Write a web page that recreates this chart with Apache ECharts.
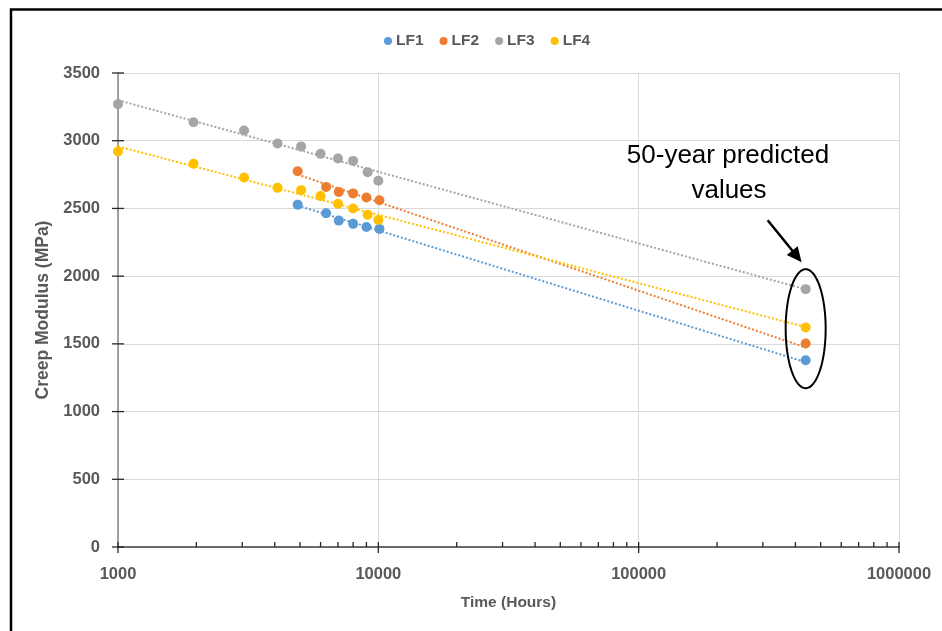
<!DOCTYPE html>
<html><head><meta charset="utf-8">
<script src="https://cdn.jsdelivr.net/npm/echarts@6/dist/echarts.min.js"></script>
<style>html,body{margin:0;padding:0;background:#fff}#c{width:942px;height:631px}</style>
</head><body><div id="c"></div>
<script>
// ---- data ----
const seriesNames = ['LF1', 'LF2', 'LF3', 'LF4'];
const colors = ['#5B9BD5', '#ED7D31', '#A5A5A5', '#FFC000'];
const timesLF1 = [4900, 6300, 7050, 8000, 9000, 10100];
const timesLF2 = [4900, 6300, 7050, 8000, 9000, 10100];
const timesLF3 = [1000, 1950, 3050, 4100, 5050, 6000, 7000, 8000, 9100, 10000];
const timesLF4 = [1000, 1950, 3050, 4100, 5050, 6000, 7000, 8000, 9100, 10000];
const valuesLF1 = [2528, 2465, 2410, 2386, 2363, 2349];
const valuesLF2 = [2775, 2659, 2622, 2611, 2581, 2561];
const valuesLF3 = [3270, 3137, 3076, 2980, 2958, 2903, 2869, 2851, 2768, 2704];
const valuesLF4 = [2921, 2829, 2729, 2652, 2635, 2591, 2534, 2500, 2453, 2414];
const predictedTime = 438000; // 50 years
const predictedValues = [1379, 1503, 1904, 1621]; // LF1..LF4
const yTickValues = [0, 500, 1000, 1500, 2000, 2500, 3000, 3500];
const xMajorTicks = [1000, 10000, 100000, 1000000];
const xMinorTicks = [2000, 3000, 4000, 5000, 6000, 7000, 8000, 9000,
  20000, 30000, 40000, 50000, 60000, 70000, 80000, 90000,
  200000, 300000, 400000, 500000, 600000, 700000, 800000, 900000];
const annotationLines = ['50-year predicted', 'values'];

// ---- build ----
const allTimes = [timesLF1, timesLF2, timesLF3, timesLF4];
const allValues = [valuesLF1, valuesLF2, valuesLF3, valuesLF4];
const FONT = 'Liberation Sans';
const TXT = '#595959';

function logFit(ts, vs) {
  const xs = ts.map(t => Math.log10(t));
  const n = xs.length;
  const mx = xs.reduce((a, b) => a + b, 0) / n;
  const my = vs.reduce((a, b) => a + b, 0) / n;
  let sxy = 0, sxx = 0;
  for (let i = 0; i < n; i++) { sxy += (xs[i] - mx) * (vs[i] - my); sxx += (xs[i] - mx) ** 2; }
  const b = sxy / sxx, a = my - b * mx;
  return t => a + b * Math.log10(t);
}

const series = [];
seriesNames.forEach((name, i) => {
  const f = logFit(allTimes[i], allValues[i]);
  series.push({
    name: name + ' trend', type: 'line', showSymbol: false, symbol: 'none', silent: true,
    data: [[allTimes[i][0], f(allTimes[i][0])], [predictedTime, f(predictedTime)]],
    lineStyle: { color: colors[i], width: 2, type: [2, 2] }, z: 2
  });
});
seriesNames.forEach((name, i) => {
  const d = allTimes[i].map((t, k) => [t, allValues[i][k]]);
  d.push([predictedTime, predictedValues[i]]);
  series.push({
    name: name, type: 'scatter', symbol: 'circle', symbolSize: 10,
    itemStyle: { color: colors[i], opacity: 1 }, data: d, z: 4
  });
});
const tickData = [];
xMajorTicks.forEach(v => tickData.push([v, 0, 0]));
xMinorTicks.forEach(v => tickData.push([v, 0, 1]));
yTickValues.forEach(v => tickData.push([1000, v, 2]));
series.push({
  name: 'ticks', type: 'custom', silent: true, clip: false, z: 5,
  encode: { x: 0, y: 1 },
  data: tickData,
  renderItem: function (params, api) {
    const kind = api.value(2);
    const p = api.coord([api.value(0), api.value(1)]);
    let shape;
    if (kind === 0) shape = { x1: p[0], y1: p[1] - 5, x2: p[0], y2: p[1] + 6 };
    else if (kind === 1) shape = { x1: p[0], y1: p[1] - 5, x2: p[0], y2: p[1] };
    else shape = { x1: p[0] - 6, y1: p[1], x2: p[0] + 6, y2: p[1] };
    return { type: 'line', shape: shape, style: { stroke: '#262626', lineWidth: 1.3 } };
  }
});

const chart = echarts.init(document.getElementById('c'), null, { renderer: 'canvas' });
const option = {
  animation: false,
  backgroundColor: '#ffffff',
  textStyle: { fontFamily: FONT },
  legend: {
    data: seriesNames, left: 379, top: 28, icon: 'circle', itemWidth: 8, itemHeight: 8,
    itemGap: 16,
    textStyle: { color: TXT, fontSize: 15.5, fontWeight: 'bold', fontFamily: FONT, padding: [0, 0, 0, -1] }
  },
  grid: { left: 118, right: 43, top: 73, bottom: 84 },
  xAxis: {
    type: 'log', logBase: 10, min: 1000, max: 1000000,
    name: 'Time (Hours)', nameLocation: 'middle', nameGap: 48,
    nameTextStyle: { color: TXT, fontSize: 15.5, fontWeight: 'bold', fontFamily: FONT },
    axisLine: { lineStyle: { color: '#404040', width: 1.5 } },
    axisTick: { show: false },
    axisLabel: { color: TXT, fontSize: 16.5, fontWeight: 'bold', fontFamily: FONT, margin: 19,
      formatter: v => String(Math.round(v)) },
    splitLine: { show: true, lineStyle: { color: '#D9D9D9', width: 1 } },
    minorTick: { show: false }, minorSplitLine: { show: false }
  },
  yAxis: {
    type: 'value', min: 0, max: 3500, interval: 500,
    name: 'Creep Modulus (MPa)', nameLocation: 'middle', nameGap: 58,
    nameTextStyle: { color: TXT, fontSize: 17.5, fontWeight: 'bold', fontFamily: FONT },
    axisLine: { show: true, lineStyle: { color: '#868686', width: 1.5 } },
    axisTick: { show: false },
    axisLabel: { color: TXT, fontSize: 16.5, fontWeight: 'bold', fontFamily: FONT, margin: 18,
      formatter: v => String(v) },
    splitLine: { show: true, lineStyle: { color: '#D9D9D9', width: 1 } }
  },
  series: series
};
chart.setOption(option);

// ---- annotation (anchored to predicted points) ----
const topPx = chart.convertToPixel({ gridIndex: 0 }, [predictedTime, Math.max(...predictedValues)]);
const botPx = chart.convertToPixel({ gridIndex: 0 }, [predictedTime, Math.min(...predictedValues)]);
const cx = topPx[0], cy = (topPx[1] + botPx[1]) / 2 + 4;
const rx = 20, ry = 59.5;
const ell = [];
for (let k = 0; k < 96; k++) {
  const a = k / 96 * Math.PI * 2;
  ell.push([cx + rx * Math.cos(a), cy + ry * Math.sin(a)]);
}
const tip = [cx - 4, cy - ry - 7];
const tail = [tip[0] - 34, tip[1] - 42];
const len = Math.hypot(tip[0] - tail[0], tip[1] - tail[1]);
const dir = [(tip[0] - tail[0]) / len, (tip[1] - tail[1]) / len];
const perp = [-dir[1], dir[0]];
const hl = 15, hw = 7;
const base = [tip[0] - hl * dir[0], tip[1] - hl * dir[1]];
chart.setOption({
  graphic: [
    { type: 'rect', left: 8.5, top: 7, shape: { x: 0, y: 0, width: 960, height: 660 },
      style: { fill: null, stroke: '#000', lineWidth: 2.5 }, silent: true, z: 100 },
    { type: 'polygon', shape: { points: ell }, style: { fill: null, stroke: '#000', lineWidth: 2 }, z: 100 },
    { type: 'line', shape: { x1: tail[0], y1: tail[1], x2: base[0] + dir[0], y2: base[1] + dir[1] },
      style: { stroke: '#000', lineWidth: 2.5 }, z: 100 },
    { type: 'polygon', shape: { points: [tip,
        [base[0] + hw * perp[0], base[1] + hw * perp[1]],
        [base[0] - hw * perp[0], base[1] - hw * perp[1]]] },
      style: { fill: '#000' }, z: 100 },
    { type: 'text', x: 728, y: 156, z: 100,
      style: { text: annotationLines[0], fontFamily: FONT, fontSize: 26, fill: '#000', align: 'center', verticalAlign: 'middle' } },
    { type: 'text', x: 729, y: 191, z: 100,
      style: { text: annotationLines[1], fontFamily: FONT, fontSize: 26, fill: '#000', align: 'center', verticalAlign: 'middle' } }
  ]
});
</script>
</body></html>
